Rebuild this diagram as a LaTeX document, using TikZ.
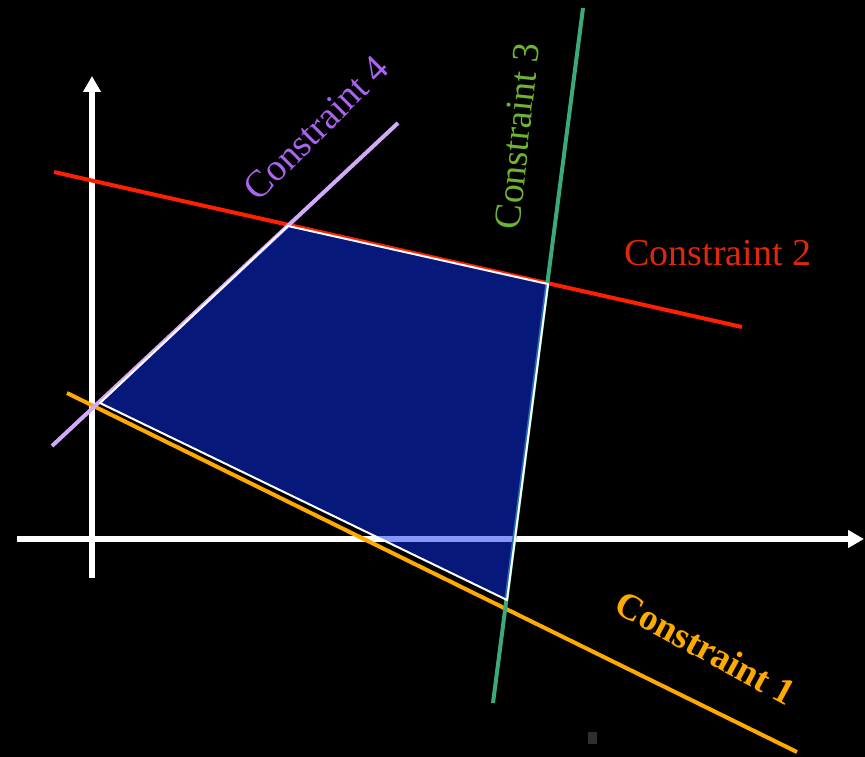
\documentclass[tikz,border=0pt]{standalone}
\usepackage{fontspec}
\setmainfont{Liberation Serif}
\usetikzlibrary{arrows.meta}

\definecolor{oneline}{RGB}{255,170,0}
\definecolor{twoline}{RGB}{255,32,0}
\definecolor{twotext}{RGB}{222,40,10}
\definecolor{threeline}{RGB}{60,170,120}
\definecolor{threetext}{RGB}{110,180,50}
\definecolor{fourline}{RGB}{210,170,250}
\definecolor{fourtext}{RGB}{170,100,240}
\definecolor{regionblue}{RGB}{12,48,244}

\begin{document}
\begin{tikzpicture}[
    x=1pt, y=-1pt,
    axis/.style={draw=white, line width=6pt, -{Triangle[width=17pt,length=16pt]}},
    cline/.style={line width=4pt},
    clabel/.style={font=\fontsize{38}{40}\selectfont, inner sep=0pt},
    region/.style={fill=regionblue, fill opacity=0.5, draw=white,
                   line width=2pt, line join=round}
  ]
  \fill[black] (0,0) rectangle (865,757);
  \useasboundingbox (0,0) rectangle (865,757);

  % axes
  \coordinate (xs) at (17,539);
  \coordinate (xe) at (864,539);
  \coordinate (ys) at (92,578);
  \coordinate (ye) at (92,76);
  \draw[axis] (xs) -- (xe);
  \draw[axis] (ys) -- (ye);

  % constraint lines
  \coordinate (a1) at (67,393);  \coordinate (b1) at (797,752);
  \coordinate (a2) at (54,172);  \coordinate (b2) at (742,327);
  \coordinate (a3) at (493,703); \coordinate (b3) at (583,8);
  \coordinate (a4) at (52,446);  \coordinate (b4) at (398,123);
  \draw[cline, oneline] (a1) -- (b1);
  \draw[cline, twoline] (a2) -- (b2);
  \draw[cline, threeline] (a3) -- (b3);
  \draw[cline, fourline] (a4) -- (b4);

  % feasible region
  \coordinate (p1) at (100,403);
  \coordinate (p2) at (288,226);
  \coordinate (p3) at (548,284);
  \coordinate (p4) at (507,600);
  \draw[region] (p1) -- (p2) -- (p3) -- (p4) -- cycle;

  % labels
  \node[clabel, text=oneline, font=\fontsize{37}{40}\selectfont\bfseries, rotate=-28.5]
    (l1) at (706,648) {Constraint 1};
  \node[clabel, text=twotext] (l2) at (718,253) {Constraint 2};
  \node[clabel, text=threetext, rotate=84] (l3) at (517,136) {Constraint 3};
  \node[clabel, text=fourtext, rotate=45] (l4) at (316,128) {Constraint 4};

  \fill[black!82!white] (588,732) rectangle (597,744);
\end{tikzpicture}
\end{document}
